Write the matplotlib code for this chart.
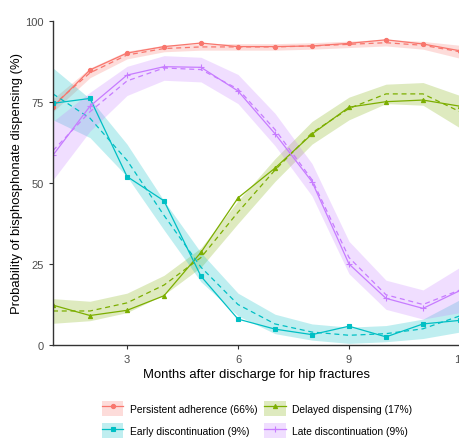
import matplotlib
matplotlib.use("Agg")
import matplotlib.pyplot as plt
from matplotlib.lines import Line2D
from matplotlib.patches import Patch
import numpy as np

months = [1, 2, 3, 4, 5, 6, 7, 8, 9, 10, 11, 12]

# observed proportions (solid line with markers)
persistent_obs = [73.5, 84.9, 90.1, 92.1, 93.2, 92.1, 92.1, 92.3, 93.1, 94.2, 92.9, 90.8]
delayed_obs = [12.3, 9.1, 10.7, 15.2, 28.6, 45.4, 54.6, 65.1, 73.4, 75.1, 75.6, 73.7]
early_obs = [74.6, 76.1, 52.0, 44.5, 21.2, 8.0, 4.9, 3.2, 5.8, 2.5, 6.5, 7.6]
late_obs = [58.6, 73.7, 83.3, 85.9, 85.7, 78.4, 65.2, 50.4, 25.0, 14.4, 11.3, 16.8]

# model-estimated trajectories (dashed) and CI half-widths (ribbons)
persistent_fit = [74.0, 84.0, 89.5, 91.5, 92.0, 92.0, 92.0, 92.3, 92.8, 93.3, 92.5, 90.5]
persistent_hw = [2.0, 1.5, 1.2, 1.0, 1.0, 1.0, 1.0, 1.0, 1.0, 1.0, 1.2, 2.0]
delayed_fit = [10.5, 10.5, 13.0, 18.5, 27.0, 41.0, 54.0, 65.5, 73.0, 77.5, 77.5, 72.0]
delayed_hw = [3.8, 3.0, 3.0, 3.0, 3.0, 3.5, 3.5, 3.5, 3.5, 3.0, 3.5, 5.0]
early_fit = [77.5, 70.0, 57.0, 40.0, 24.0, 12.5, 6.5, 4.0, 3.0, 3.5, 5.0, 9.0]
early_hw = [8.0, 6.0, 5.0, 4.5, 4.5, 3.5, 3.0, 2.5, 2.5, 2.5, 3.0, 5.0]
late_fit = [60.0, 72.0, 81.5, 85.5, 85.0, 79.0, 66.5, 51.0, 27.0, 15.5, 12.5, 17.0]
late_hw = [9.0, 6.0, 4.5, 3.8, 3.8, 4.5, 5.0, 5.0, 5.0, 4.5, 4.5, 7.0]

labels = ["Persistent adherence (66%)", "Delayed dispensing (17%)",
          "Early discontinuation (9%)", "Late discontinuation (9%)"]
colors = ["#F8766D", "#7CAE00", "#00BFC4", "#C77CFF"]
markers = ["o", "^", "s", "+"]

plt.rcParams.update({
    "font.family": ["Liberation Sans", "DejaVu Sans"],
    "font.size": 8,
})

fig = plt.figure(figsize=(4.59, 4.39), dpi=100)
ax = fig.add_axes([53 / 459, 1 - 346 / 439, 407 / 459, 324 / 439])

obs = [persistent_obs, delayed_obs, early_obs, late_obs]
fits = [persistent_fit, delayed_fit, early_fit, late_fit]
hws = [persistent_hw, delayed_hw, early_hw, late_hw]

handles = []
for o, f, hw, c, m, lab in zip(obs, fits, hws, colors, markers, labels):
    f = np.array(f)
    hw = np.array(hw)
    ax.fill_between(months, f - hw, f + hw, color=c, alpha=0.25, linewidth=0)
    ax.plot(months, f, color=c, linestyle=(0, (4, 3)), linewidth=0.9)
    ms = 4.5 if m == "+" else 3.0
    ax.plot(months, o, color=c, marker=m, markersize=ms, linewidth=0.9,
            markeredgewidth=0.8)
    handles.append((Patch(facecolor=c, alpha=0.25, edgecolor="none"),
                    Line2D([], [], color=c, marker=m, markersize=ms, linewidth=0.9,
                           markeredgewidth=0.8)))

ax.set_xlim(1, 12)
ax.set_ylim(0, 100)
ax.set_xticks([3, 6, 9, 12])
ax.set_yticks([0, 25, 50, 75, 100])
for s in ["top", "right"]:
    ax.spines[s].set_visible(False)
for s in ["left", "bottom"]:
    ax.spines[s].set_color("#333333")
    ax.spines[s].set_linewidth(1.0)
ax.tick_params(colors="#333333", labelcolor="#4D4D4D", length=3, labelsize=8)
ax.set_xlabel("Months after discharge for hip fractures", fontsize=9.4, labelpad=3)
ax.set_ylabel("Probability of bisphosphonate dispensing (%)", fontsize=9.4, labelpad=2)

order = [0, 2, 1, 3]
fig.legend([handles[i] for i in order], [labels[i] for i in order],
           loc="center", bbox_to_anchor=(257 / 459, 0.042), ncol=2,
           frameon=False, fontsize=7.4, handlelength=2.1, handleheight=1.8,
           handletextpad=0.6, columnspacing=0.7, labelspacing=0.75)

fig.savefig("out.png", dpi=100)
